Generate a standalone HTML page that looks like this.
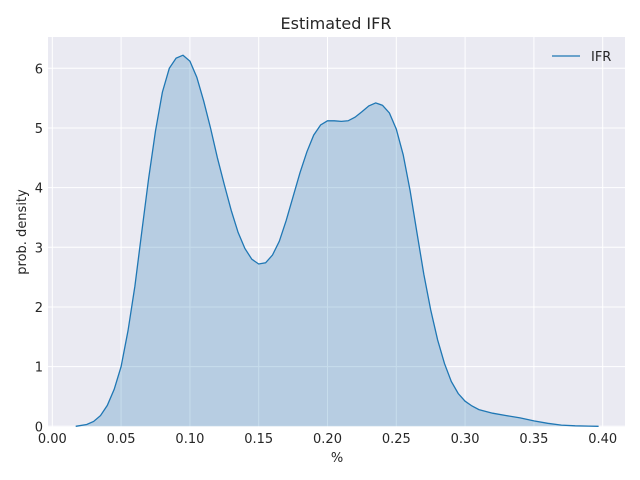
<!DOCTYPE html>
<html><head><meta charset="utf-8"><style>
body{margin:0;background:#fff;}
svg{display:block;font-family:"DejaVu Sans","Liberation Sans",sans-serif;}
</style></head><body>
<svg id="chart" width="640" height="480">
<rect x="0" y="0" width="640" height="480" fill="#fff"/>
<rect x="48" y="37" width="577" height="390" fill="#eaeaf2"/>
<g id="grid"></g>
<g id="marks"></g>
<g id="ticks"></g>
<text x="336" y="29" text-anchor="middle" font-size="16" fill="#262626">Estimated IFR</text>
<text x="337" y="462" text-anchor="middle" font-size="13" fill="#262626">%</text>
<text transform="translate(26,232) rotate(-90)" text-anchor="middle" font-size="13" fill="#262626">prob. density</text>
<g>
<line x1="552" y1="56" x2="580" y2="56" stroke="#1f77b4" stroke-width="1.3"/>
<text x="591" y="61" font-size="13" fill="#262626">IFR</text>
</g>
</svg>
<script>
const xs=[0.017,0.025,0.03,0.035,0.04,0.045,0.05,0.055,0.06,0.065,0.07,0.075,0.08,0.085,0.09,0.095,0.1,0.105,0.11,0.115,0.12,0.125,0.13,0.135,0.14,0.145,0.15,0.155,0.16,0.165,0.17,0.175,0.18,0.185,0.19,0.195,0.2,0.205,0.21,0.215,0.22,0.225,0.23,0.235,0.24,0.245,0.25,0.255,0.26,0.265,0.27,0.275,0.28,0.285,0.29,0.295,0.3,0.305,0.31,0.32,0.33,0.34,0.35,0.36,0.37,0.38,0.39,0.397];
const ys=[0,0.03,0.08,0.18,0.35,0.62,1.0,1.6,2.35,3.25,4.15,4.95,5.6,6.0,6.17,6.22,6.12,5.85,5.45,5.0,4.5,4.05,3.62,3.25,2.98,2.8,2.72,2.74,2.87,3.1,3.45,3.85,4.25,4.6,4.88,5.05,5.12,5.12,5.11,5.12,5.18,5.27,5.37,5.42,5.38,5.25,4.98,4.55,3.95,3.25,2.55,1.95,1.45,1.05,0.75,0.55,0.42,0.34,0.28,0.22,0.18,0.14,0.09,0.05,0.02,0.008,0.003,0];
const xTicks=[0,0.05,0.1,0.15,0.2,0.25,0.3,0.35,0.4];
const xTickLabels=["0.00","0.05","0.10","0.15","0.20","0.25","0.30","0.35","0.40"];
const yTicks=[0,1,2,3,4,5,6];
const yTickLabels=["0","1","2","3","4","5","6"];
const X=v=>52.3+v*1376;
const Y=v=>426.3-v*59.67;
const NS="http://www.w3.org/2000/svg";
const grid=document.getElementById('grid'),ticks=document.getElementById('ticks'),marks=document.getElementById('marks');
xTicks.forEach((t,i)=>{
 const l=document.createElementNS(NS,'line');
 l.setAttribute('x1',X(t));l.setAttribute('x2',X(t));l.setAttribute('y1',37);l.setAttribute('y2',427);
 l.setAttribute('stroke','#fff');l.setAttribute('stroke-width','1');
 
 
 grid.appendChild(l);
 const tx=document.createElementNS(NS,'text');
 tx.setAttribute('x',X(t));tx.setAttribute('y',443);tx.setAttribute('text-anchor','middle');
 tx.setAttribute('font-size','13');tx.setAttribute('fill','#262626');tx.textContent=xTickLabels[i];
 
 
 ticks.appendChild(tx);
});
yTicks.forEach((t,i)=>{
 const l=document.createElementNS(NS,'line');
 l.setAttribute('x1',48);l.setAttribute('x2',625);l.setAttribute('y1',Y(t));l.setAttribute('y2',Y(t));
 l.setAttribute('stroke','#fff');l.setAttribute('stroke-width','1');
 
 
 grid.appendChild(l);
 const tx=document.createElementNS(NS,'text');
 tx.setAttribute('x',43);tx.setAttribute('y',Y(t)+5);tx.setAttribute('text-anchor','end');
 tx.setAttribute('font-size','13');tx.setAttribute('fill','#262626');tx.textContent=yTickLabels[i];
 
 
 ticks.appendChild(tx);
});
let d='';xs.forEach((x,i)=>{d+=(i?'L':'M')+X(x).toFixed(1)+','+Y(ys[i]).toFixed(1);});
const area=document.createElementNS(NS,'path');
area.setAttribute('d',d+'L'+X(xs[xs.length-1])+','+Y(0)+'L'+X(xs[0])+','+Y(0)+'Z');
area.setAttribute('fill','rgba(31,119,180,0.25)');


marks.appendChild(area);
const line=document.createElementNS(NS,'path');
line.setAttribute('d',d);line.setAttribute('fill','none');line.setAttribute('stroke','#1f77b4');line.setAttribute('stroke-width','1.3');


marks.appendChild(line);
</script>
</body></html>
